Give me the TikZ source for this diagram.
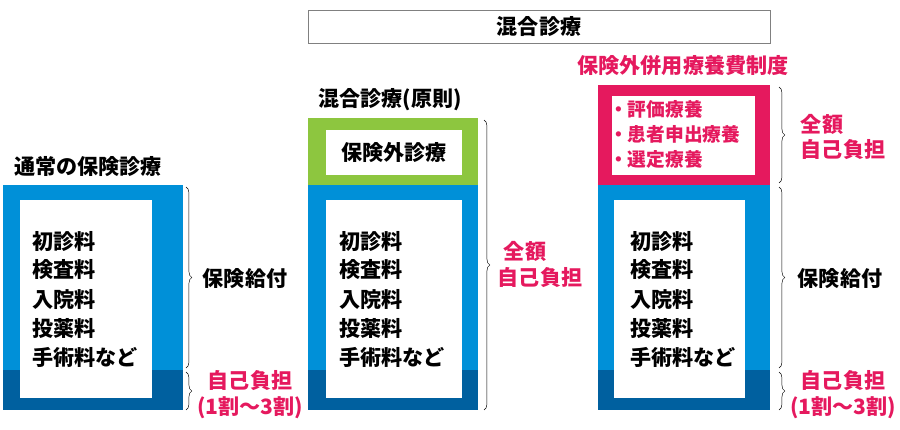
\documentclass[tikz,border=0pt]{standalone}
\usepackage{fontspec}
\setmainfont{Noto Sans CJK JP}
\usetikzlibrary{decorations.pathreplacing}
\definecolor{hblue}{HTML}{0090D8}
\definecolor{hdark}{HTML}{00609F}
\definecolor{hgreen}{HTML}{8DC63F}
\definecolor{hpink}{HTML}{E5195E}
\tikzset{
  txt/.style={font=\fontsize{18}{21}\selectfont\bfseries, inner sep=0pt},
  body/.style={txt, anchor=west, align=left},
  pinktxt/.style={txt, text=hpink, align=center},
  item/.style={body, text=hpink, font=\fontsize{16}{19}\selectfont\bfseries},
  brc/.style={decorate, decoration={brace, amplitude=5pt}, thin},
}
\begin{document}
\begin{tikzpicture}[x=0.03cm, y=-0.03cm]
  \useasboundingbox (0,0) rectangle (900,430);
  % Title
  \draw[gray] (308,10) rectangle (770,43);
  \node[txt] (title) at (539,27) {混合診療};

  % Column 1
  \node[txt] (lab1) at (88,167) {通常の保険診療};
  \fill[hblue] (3,185) rectangle (183,410);
  \fill[hdark] (3,370) rectangle (183,410);
  \fill[white] (20,200) rectangle (152,398);
  \foreach \t [count=\i] in {初診料,検査料,入院料,投薬料,手術料など}
    \node[body] (a\i) at (32,{212+29*\i}) {\t};
  \draw[brc] (186,187) -- (186,368);
  \draw[brc] (186,372) -- (186,410);
  \node[txt] (ins1) at (245,279) {保険給付};
  \node[pinktxt] (own1) at (250,381) {自己負担};
  \node[pinktxt] (rat1) at (250,408) {(1割～3割)};

  % Column 2
  \node[txt] (lab2) at (390,100) {混合診療(原則)};
  \fill[hgreen] (308,118) rectangle (478,185);
  \fill[white] (326,130) rectangle (462,175);
  \node[txt] (ext2) at (394,153) {保険外診療};
  \fill[hblue] (308,185) rectangle (478,410);
  \fill[hdark] (308,370) rectangle (478,410);
  \fill[white] (326,200) rectangle (462,398);
  \foreach \t [count=\i] in {初診料,検査料,入院料,投薬料,手術料など}
    \node[body] (b\i) at (339,{212+29*\i}) {\t};
  \draw[brc] (484,120) -- (484,410);
  \node[pinktxt] (full2) at (525,251) {全額};
  \node[pinktxt] (own2) at (540,278) {自己負担};

  % Column 3
  \node[pinktxt] (lab3) at (683,66) {保険外併用療養費制度};
  \fill[hpink] (598,85) rectangle (770,185);
  \fill[white] (612,96) rectangle (755,175);
  \node[item] (c1) at (609,109) {・評価療養};
  \node[item] (c2) at (609,134) {・患者申出療養};
  \node[item] (c3) at (609,159) {・選定療養};
  \fill[hblue] (598,185) rectangle (770,410);
  \fill[hdark] (598,370) rectangle (770,410);
  \fill[white] (614,200) rectangle (745,398);
  \foreach \t [count=\i] in {初診料,検査料,入院料,投薬料,手術料など}
    \node[body] (d\i) at (630,{212+29*\i}) {\t};
  \draw[brc] (779,87) -- (779,183);
  \draw[brc] (779,187) -- (779,368);
  \draw[brc] (779,372) -- (779,410);
  \node[pinktxt] (full3) at (822,124) {全額};
  \node[pinktxt] (own3) at (843,150) {自己負担};
  \node[txt] (ins3) at (840,279) {保険給付};
  \node[pinktxt] (own4) at (843,381) {自己負担};
  \node[pinktxt] (rat3) at (843,408) {(1割～3割)};
\end{tikzpicture}
\end{document}
